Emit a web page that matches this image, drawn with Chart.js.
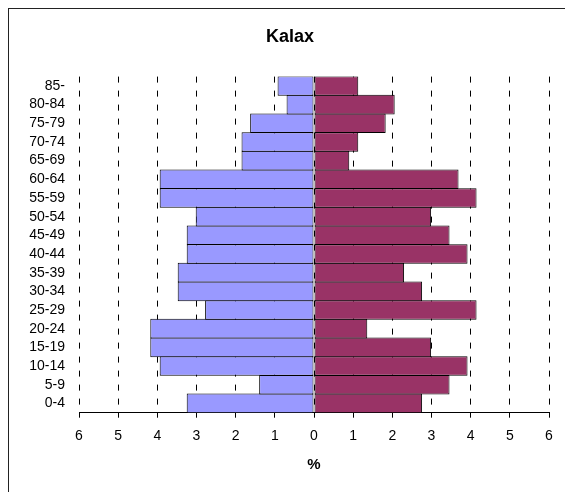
<!DOCTYPE html>
<html>
<head>
<meta charset="utf-8">
<script src="https://cdn.jsdelivr.net/npm/chart.js@4"></script>
<style>
    html, body { margin: 0; padding: 0; background: #fff; overflow: hidden; }
    #frame {
        position: absolute; left: 8px; top: 8px;
        width: 620px; height: 520px;
        border: 1px solid #222;
    }
    #pyramid { position: absolute; left: 0; top: 0; }
</style>
</head>
<body>
<div id="frame">
    <canvas id="pyramid" width="562" height="483"></canvas>
</div>
<script>
// Age groups, bottom to top
const ageGroups = ['0-4', '5-9', '10-14', '15-19', '20-24', '25-29', '30-34', '35-39', '40-44',
    '45-49', '50-54', '55-59', '60-64', '65-69', '70-74', '75-79', '80-84', '85-'];

// Percent of population (left side and right side)
const leftValues = [3.25, 1.40, 3.94, 4.18, 4.18, 2.78, 3.48, 3.48, 3.25,
    3.25, 3.02, 3.94, 3.94, 1.85, 1.85, 1.63, 0.70, 0.93];
const rightValues = [2.76, 3.46, 3.92, 2.99, 1.36, 4.15, 2.76, 2.30, 3.92,
    3.46, 2.99, 4.15, 3.69, 0.90, 1.13, 1.83, 2.06, 1.13];

const xTicks = [-6, -5, -4, -3, -2, -1, 0, 1, 2, 3, 4, 5, 6];

const fontFamily = '"Liberation Sans", Arial, sans-serif';

const ctx = document.getElementById('pyramid');
if (ctx) {
    const pyramidChart = new Chart(ctx.getContext('2d'), {
        type: 'bar',
        data: {
            labels: ageGroups,
            datasets: [{
                data: leftValues.map(v => -v),
                backgroundColor: '#9999FF'
            }, {
                data: rightValues,
                backgroundColor: '#993366'
            }]
        },
        options: {
            indexAxis: 'y',
            responsive: false,
            animation: false,
            layout: { padding: { left: 0, right: 0, top: 0, bottom: 18 } },
            datasets: {
                bar: {
                    borderColor: '#000',
                    borderWidth: 1,
                    borderSkipped: false,
                    barPercentage: 1.05,
                    categoryPercentage: 1
                }
            },
            plugins: {
                legend: { display: false },
                tooltip: { enabled: false },
                title: {
                    display: true,
                    text: 'Kalax',
                    color: '#000',
                    font: { family: fontFamily, size: 18, weight: 'bold' },
                    padding: { top: 17, bottom: 29 }
                }
            },
            scales: {
                x: {
                    stacked: true,
                    min: -6,
                    max: 6,
                    afterBuildTicks: scale => {
                        scale.ticks = xTicks.map(v => ({ value: v }));
                    },
                    ticks: {
                        color: '#000',
                        padding: 10,
                        font: { family: fontFamily, size: 14 },
                        callback: v => Math.abs(v)
                    },
                    grid: {
                        color: '#000',
                        tickLength: 5,
                        tickColor: '#000',
                        tickBorderDash: []
                    },
                    border: { display: true, color: '#000', width: 1, dash: [6, 8] },
                    title: {
                        display: true,
                        text: '%',
                        color: '#000',
                        font: { family: fontFamily, size: 15, weight: 'bold' },
                        padding: { top: 1.5, bottom: 0 }
                    }
                },
                y: {
                    stacked: true,
                    reverse: true,
                    afterFit: scale => { scale.width = 70; },
                    grid: { display: false, drawTicks: false },
                    border: { display: false },
                    ticks: {
                        color: '#000',
                        padding: 14,
                        autoSkip: false,
                        font: { family: fontFamily, size: 14 }
                    }
                },
                // empty right-hand spacer so the title stays centred on the frame
                spacer: {
                    type: 'linear',
                    axis: 'y',
                    position: 'right',
                    afterFit: scale => { scale.width = 22; },
                    grid: { display: false, drawTicks: false },
                    border: { display: false },
                    ticks: { display: false }
                }
            }
        }
    });
}
</script>
</body>
</html>
